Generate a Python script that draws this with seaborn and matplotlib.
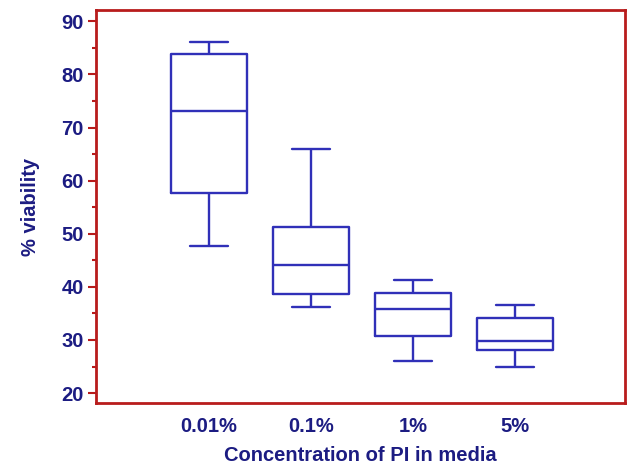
import pandas as pd
import numpy as np
import matplotlib
matplotlib.use("Agg")
import matplotlib.pyplot as plt
from matplotlib.ticker import MultipleLocator
import seaborn as sns

# five-number summaries (min, q1, median, q3, max)
groups = ["0.01%", "0.1%", "1%", "5%"]
low = [47.7, 36.2, 26.1, 25.0]
q1 = [57.6, 38.6, 30.8, 28.1]
med = [73.1, 44.2, 35.8, 29.8]
q3 = [83.8, 51.3, 38.9, 34.2]
high = [86.1, 65.9, 41.3, 36.6]

rows = []
for i, g in enumerate(groups):
    for v in [low[i], q1[i], med[i], q3[i], high[i]]:
        rows.append({"conc": g, "viability": v})
df = pd.DataFrame(rows)

blue = "#3030b8"
navy = "#1c1c82"
red = "#b81c1c"

sns.set_style("white")
plt.rcParams["font.family"] = ["Liberation Sans", "DejaVu Sans"]

fig = plt.figure(figsize=(6.28, 4.65), dpi=100)
ax = fig.add_axes([0.153, 0.133, 0.842, 0.845])

sns.boxplot(data=df, x="conc", y="viability", order=groups, whis=(0, 100),
            width=0.75, fill=False, color=blue, linewidth=1.7, ax=ax)

ax.set_xlim(-1.11, 4.08)
ax.set_ylim(18.1, 92.1)
ax.yaxis.set_major_locator(MultipleLocator(10))
ax.yaxis.set_minor_locator(MultipleLocator(5))

for s in ax.spines.values():
    s.set_color(red)
    s.set_linewidth(2)

ax.tick_params(axis="y", which="major", direction="out", length=6, width=1.5,
               color=red, left=True, labelsize=14.5, labelcolor=navy, pad=3)
ax.tick_params(axis="y", which="minor", direction="out", length=3, width=1.5,
               color=red, left=True)
ax.tick_params(axis="x", length=0, labelsize=14.5, labelcolor=navy, pad=10)
for lab in ax.get_xticklabels() + ax.get_yticklabels():
    lab.set_fontweight("bold")

ax.set_xlabel("Concentration of PI in media", fontsize=14.5, fontweight="bold",
              color=navy, labelpad=7)
ax.set_ylabel("% viability", fontsize=14.5, fontweight="bold", color=navy,
              labelpad=15)

fig.savefig("out.png", dpi=100)
